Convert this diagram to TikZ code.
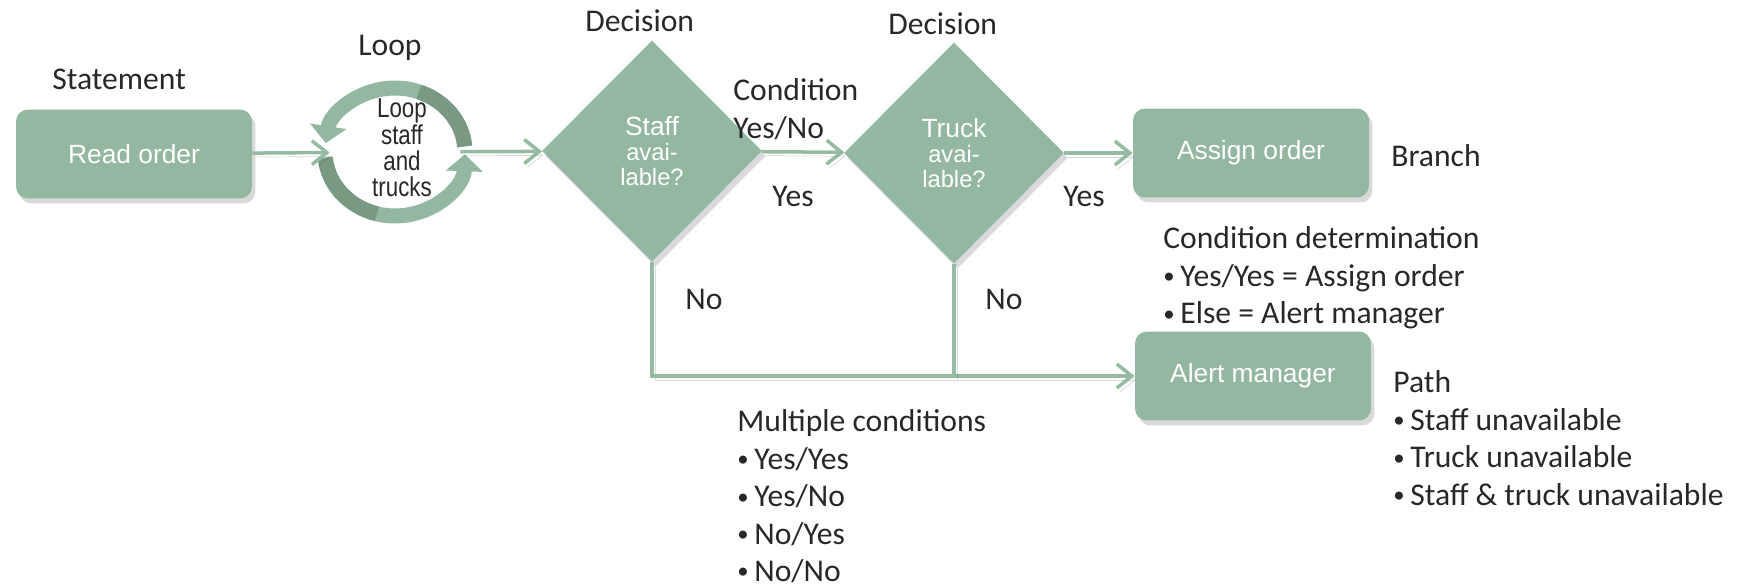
\documentclass[tikz,border=0pt]{standalone}
\usepackage{fontspec}
\usepackage{graphicx}
\setmainfont{Carlito}
\newfontfamily\arialfont{Liberation Sans}
\usetikzlibrary{shapes.geometric,arrows.meta,shadows}

\definecolor{boxgreen}{RGB}{147,183,160}
\definecolor{ringdark}{RGB}{121,153,131}
\definecolor{linegreen}{RGB}{150,187,163}
\definecolor{textgray}{RGB}{40,40,40}

% stacked lines, first baseline on the anchor
\newcommand{\textlines}[1]{\begin{tabular}[t]{@{}l@{}}#1\end{tabular}}
\newcommand{\bul}{\makebox[0.34cm][l]{\raisebox{1.6pt}{\scalebox{.72}{•}}}}

\tikzset{
	process/.style={rectangle, rounded corners=.24cm, fill=boxgreen, text=white,
		minimum width=4.72cm, minimum height=1.78cm,
		font=\arialfont\fontsize{15}{18}\selectfont,
		drop shadow={shadow xshift=.07cm, shadow yshift=-.1cm, opacity=.3}},
	decision/.style={diamond, fill=boxgreen, text=white, align=center, inner sep=0pt,
		minimum width=4.4cm, minimum height=4.42cm,
		font=\arialfont\fontsize{13.5}{14.4}\selectfont,
		drop shadow={shadow xshift=.07cm, shadow yshift=-.1cm, opacity=.3}},
	ringarc/.style={draw=boxgreen, line width=.3cm, -{Triangle[width=.72cm,length=.34cm]}},
	ringshade/.style={draw=ringdark, line width=.3cm},
	connector/.style={draw=linegreen, line width=2pt,
		preaction={draw=black, opacity=.15, transform canvas={shift={(.06cm,-.08cm)}}}},
	flow/.style={connector, -{Straight Barb[length=.3cm,width=.48cm]}},
	remark/.style={text=textgray, font=\fontsize{18}{21.3}\selectfont, inner sep=0pt, anchor=base west},
}

\begin{document}
\begin{tikzpicture}
	\begin{scope}[x=0.02cm,y=-0.02cm]
	\useasboundingbox (0,0) rectangle (1742,587);

	% boxes and decisions
	\node[process] (read) at (134,154) {Read order};
	\node[process] (assign) at (1251,153) {Assign order};
	\node[process] (alert) at (1253,376) {Alert manager};
	\node[decision] (staff) at (652,151) {{\fontsize{15}{14.4}\selectfont Staff}\\avai-\\lable?};
	\node[decision] (truck) at (954,153) {{\fontsize{15}{14.4}\selectfont Truck}\\avai-\\lable?};

	% loop ring
	\node[ellipse, minimum width=3.12cm, minimum height=2.84cm, inner sep=0pt] (ring) at (395,152) {};
	\draw[ringarc] ([shift={(5:1.4cm and 1.28cm)}]ring.center) arc[start angle=5, end angle=172, x radius=1.4cm, y radius=1.28cm];
	\draw[ringarc] ([shift={(185:1.4cm and 1.28cm)}]ring.center) arc[start angle=185, end angle=358, x radius=1.4cm, y radius=1.28cm];
	\draw[ringshade] ([shift={(5:1.4cm and 1.28cm)}]ring.center) arc[start angle=5, end angle=70, x radius=1.4cm, y radius=1.28cm];
	\draw[ringshade] ([shift={(185:1.4cm and 1.28cm)}]ring.center) arc[start angle=185, end angle=255, x radius=1.4cm, y radius=1.28cm];
	\node[text=textgray, inner sep=0pt] (looptext) at (402,148) {\scalebox{.82}[1]{\parbox{2cm}{\centering\arialfont\fontsize{15.5}{15}\selectfont\lineskiplimit=-\maxdimen Loop\\staff\\and\\trucks}}};

	% connectors
	\draw[flow, shorten >=-.26cm] (read) -- (ring);
	\draw[flow, shorten <=-.26cm] (ring) -- (staff);
	\draw[flow] (staff) -- (truck);
	\draw[flow] (truck) -- (assign);
	\draw[flow] (staff.south) |- (alert.west);
	\draw[connector] (truck.south) -- (truck.south |- alert.west);

	% labels
	\node[remark] (statement) at (52,90) {Statement};
	\node[remark] (looplbl) at (358,56) {Loop};
	\node[remark] (decision1) at (585,32) {Decision};
	\node[remark] (decision2) at (888,35) {Decision};
	\node[remark] (condition) at (733,101) {\textlines{Condition\\Yes/No}};
	\node[remark] (yes1) at (772,207) {Yes};
	\node[remark] (yes2) at (1063,207) {Yes};
	\node[remark] (no1) at (685,310) {No};
	\node[remark] (no2) at (985,310) {No};
	\node[remark] (branch) at (1391,167) {Branch};
	\node[remark] (determination) at (1163,249) {\textlines{Condition determination\\\bul Yes/Yes = Assign order\\\bul Else = Alert manager}};
	\node[remark] (path) at (1393,393) {\textlines{Path\\\bul Staff unavailable\\\bul Truck unavailable\\\bul Staff \& truck unavailable}};
	\node[remark] (multiple) at (737,432) {\textlines{Multiple conditions\\\bul Yes/Yes\\\bul Yes/No\\\bul No/Yes\\\bul No/No}};
	\end{scope}
\end{tikzpicture}
\end{document}
